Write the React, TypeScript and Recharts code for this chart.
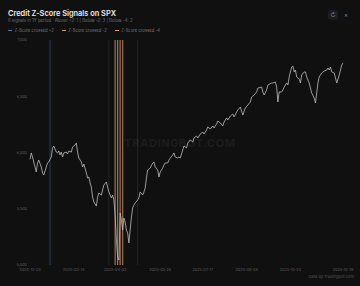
import { LineChart, Line, XAxis, YAxis, ReferenceLine } from "recharts";

// trading-session index since the first bar, and SPX close at that session
const sessions = [
    0, 1, 2, 4, 5, 6, 7, 9, 10, 11, 13, 14, 15, 17, 18, 19, 21, 22, 23, 24, 25, 26, 27, 29, 30, 31, 33, 34, 36, 37,
    38, 39, 41, 42, 43, 45, 46, 47, 48, 49, 50, 51, 53, 54, 55, 57, 58, 59, 61, 62, 63, 65, 66, 67, 68, 69, 70, 71,
    72, 73, 74, 75, 76, 77, 78, 79, 80, 81, 82, 83, 84, 86, 87, 88, 90, 91, 92, 93, 94, 96, 98, 99, 100, 102, 103,
    104, 106, 107, 108, 110, 111, 112, 114, 115, 116, 118, 119, 120, 122, 123, 125, 126, 128, 130, 131, 133, 134,
    136, 138, 139, 141, 142, 144, 146, 147, 149, 150, 152, 154, 155, 157, 158, 160, 162, 163, 165, 166, 168, 170,
    172, 174, 176, 177, 179, 181, 182, 185, 186, 187, 189, 190, 193, 194, 196, 197, 198, 199, 201, 202, 203, 205,
    206, 207, 209, 210, 211, 212, 213, 215, 216, 217, 219, 220, 221, 223, 224, 225, 227, 228, 229, 230, 231, 233,
    234, 235, 237, 238, 239, 240, 241, 243, 244, 245, 247, 248, 249, 250,
];
const closes = [
    5940, 5996, 5960, 5871, 5827, 5907, 5933, 5871, 5818, 5800, 5871, 5907, 5916, 5960, 6040, 6058, 6004, 5996, 6013,
    5978, 6004, 5960, 5996, 6004, 5987, 6013, 6004, 6049, 6067, 6084, 6004, 5951, 5916, 5871, 5898, 5818, 5773, 5782,
    5729, 5693, 5604, 5560, 5524, 5604, 5640, 5622, 5667, 5711, 5738, 5693, 5649, 5596, 5622, 5578, 5444, 5222, 5071,
    5044, 5462, 5400, 5311, 5418, 5382, 5311, 5284, 5196, 5311, 5427, 5507, 5533, 5551, 5578, 5596, 5649, 5622, 5649,
    5684, 5773, 5844, 5862, 5907, 5916, 5871, 5844, 5782, 5827, 5862, 5889, 5907, 5907, 5933, 5951, 5978, 5996, 5960,
    5951, 5960, 5951, 6022, 6058, 6040, 6084, 6111, 6093, 6129, 6147, 6129, 6164, 6182, 6164, 6200, 6227, 6209, 6236,
    6218, 6253, 6280, 6262, 6236, 6271, 6307, 6289, 6324, 6342, 6316, 6360, 6378, 6404, 6333, 6396, 6422, 6449, 6493,
    6511, 6538, 6573, 6582, 6538, 6511, 6556, 6600, 6618, 6618, 6627, 6582, 6449, 6538, 6538, 6556, 6582, 6618, 6600,
    6671, 6760, 6769, 6716, 6733, 6671, 6653, 6618, 6689, 6716, 6716, 6671, 6618, 6573, 6529, 6484, 6440, 6529, 6618,
    6671, 6707, 6716, 6724, 6733, 6751, 6733, 6760, 6716, 6707, 6662, 6618, 6689, 6733, 6778, 6796,
];

// Z-score crossings
const signalSessions = [16, 63, 68, 70, 72, 74, 86];
const signalKinds = ["+2", "exit", "-2", "-4", "-4", "-2", "exit"];

const tickSessions = [0, 35, 68, 104, 138, 173, 208, 250];
const tickLabels = [
    "2024-12-23",
    "2025-02-14",
    "2025-04-03",
    "2025-05-28",
    "2025-07-17",
    "2025-09-05",
    "2025-10-24",
    "2025-12-19",
];
const yTicks = [5000, 5500, 6000, 6500, 7000];

const legendItems = [
    { label: "Z-Score crossed +2", color: "#4f78a8" },
    { label: "Z-Score crossed -2", color: "#c8965f" },
    { label: "Z-Score crossed -4", color: "#e89a7c" },
];

const kindStyle: Record<string, { color: string; width: number; opacity: number }> = {
    "+2": { color: "#4f78a8", width: 1, opacity: 0.45 },
    "-2": { color: "#c8965f", width: 1.2, opacity: 0.75 },
    "-4": { color: "#e89a7c", width: 1.2, opacity: 0.7 },
    exit: { color: "#6a6a6a", width: 0.8, opacity: 0.3 },
};

const data = sessions.map((s, i) => ({ s, close: closes[i] }));

const FONT = "Inter, 'Noto Sans', sans-serif";

export default function App() {
    return (
        <div
            style={{
                position: "relative",
                width: 360,
                height: 286,
                background: "#101010",
                fontFamily: FONT,
                overflow: "hidden",
            }}
        >
            <style>{`body{margin:0;background:#101010}`}</style>
            <div style={{ position: "absolute", left: 8, top: 8.5, color: "#ececec", fontSize: 7.4, fontWeight: 600 }}>
                Credit Z-Score Signals on SPX
            </div>
            <div style={{ position: "absolute", left: 8, top: 17.5, color: "#6e6e6e", fontSize: 4.3 }}>
                6 signals in 1Y period &nbsp; Above +2: 1 | Below -2: 3 | Below -4: 2
            </div>
            <div
                style={{
                    position: "absolute",
                    left: 8,
                    top: 27.5,
                    display: "flex",
                    gap: 8,
                    color: "#7a7a7a",
                    fontSize: 4.2,
                }}
            >
                {legendItems.map((it) => (
                    <div key={it.label} style={{ display: "flex", alignItems: "center", gap: 2.5 }}>
                        <span style={{ width: 4, height: 1, background: it.color, display: "inline-block" }} />
                        {it.label}
                    </div>
                ))}
            </div>
            <div
                style={{
                    position: "absolute",
                    left: 328,
                    top: 10,
                    width: 10,
                    height: 10,
                    background: "#1c1c1c",
                    borderRadius: 2,
                    color: "#8a8a8a",
                    fontSize: 6,
                    lineHeight: "10px",
                    textAlign: "center",
                }}
            >
                ↻
            </div>
            <div style={{ position: "absolute", left: 344, top: 10, color: "#8a8a8a", fontSize: 6, lineHeight: "10px" }}>
                ×
            </div>
            <div
                style={{
                    position: "absolute",
                    left: 0,
                    width: 360,
                    top: 136,
                    textAlign: "center",
                    color: "#1d1d1d",
                    fontSize: 11,
                    fontWeight: 700,
                    letterSpacing: 0.6,
                }}
            >
                TRADINGBOT.COM
            </div>
            <div style={{ position: "absolute", right: 6, top: 274, color: "#555", fontSize: 4 }}>
                Data by Tradingbot.com
            </div>
            <div style={{ position: "absolute", left: 0, top: 0 }}>
                <LineChart width={360} height={286} data={data} margin={{ top: 40, right: 17, bottom: 0, left: 0 }}>
                    <XAxis
                        dataKey="s"
                        type="number"
                        domain={[0, 250]}
                        ticks={tickSessions}
                        tickFormatter={(v) => tickLabels[tickSessions.indexOf(v)] ?? ""}
                        height={21}
                        axisLine={false}
                        tickLine={false}
                        tickSize={0}
                        tickMargin={3}
                        interval={0}
                        tick={{ fill: "#5e5e5e", fontSize: 3.8, fontFamily: FONT }}
                    />
                    <YAxis
                        domain={[5000, 7000]}
                        ticks={yTicks}
                        width={30}
                        axisLine={false}
                        tickLine={false}
                        tickSize={0}
                        tickMargin={3}
                        tickFormatter={(v) => v.toLocaleString("en-US")}
                        tick={{ fill: "#5e5e5e", fontSize: 3.8, fontFamily: FONT }}
                    />
                    {signalSessions.map((s, i) => {
                        const st = kindStyle[signalKinds[i]];
                        return (
                            <ReferenceLine
                                key={s}
                                x={s}
                                stroke={st.color}
                                strokeWidth={st.width}
                                strokeOpacity={st.opacity}
                            />
                        );
                    })}
                    <Line
                        type="linear"
                        dataKey="close"
                        stroke="#bdbdbd"
                        strokeWidth={0.8}
                        dot={false}
                        isAnimationActive={false}
                    />
                </LineChart>
            </div>
        </div>
    );
}
